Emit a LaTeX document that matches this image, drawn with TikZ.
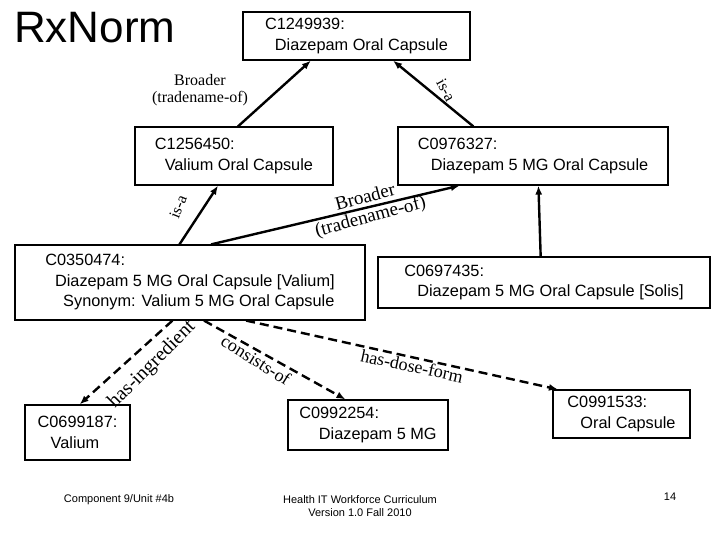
\documentclass[tikz,border=0pt]{standalone}
\usepackage{fontspec}
\setmainfont{Liberation Sans}
\newfontfamily\lab{Liberation Serif}
\usetikzlibrary{arrows.meta,calc}
\begin{document}
\begin{tikzpicture}[x=1pt,y=-1pt,
 box/.style={draw,line width=1.2pt,inner sep=0pt,font=\fontsize{16.3}{20.5}\selectfont,align=left},
 rel/.style={line width=2.4pt,-{Latex[length=9pt,width=7pt]}},
 drel/.style={rel,dash pattern=on 9pt off 5pt},
 lb/.style={font=\lab\fontsize{16}{17}\selectfont,inner sep=0pt}]
\useasboundingbox (0,0) rectangle (720,540);
\node[anchor=north west,font=\fontsize{44}{48}\selectfont,inner sep=0pt] (title) at (14,12) {RxNorm};
\def\bx#1#2#3#4#5#6{\node[box,minimum width=#4-#2,minimum height=#5-#3] (#1) at ({(#2+#4)/2},{(#3+#5)/2}) {#6};}
\bx{top}{243}{12}{470}{60}{C1249939:\\\hspace*{0.6em}Diazepam Oral Capsule}
\bx{val}{135}{127}{333}{185}{C1256450:\\\hspace*{0.6em}Valium Oral Capsule}
\bx{dz}{398}{127}{668}{185}{C0976327:\\\hspace*{0.8em}Diazepam 5 MG Oral Capsule}
\bx{vc}{15}{245}{365}{320}{C0350474:\\\hspace*{0.6em}Diazepam 5 MG Oral Capsule [Valium]\\\hspace*{1.1em}Synonym: Valium 5 MG Oral Capsule}
\bx{so}{378}{257}{710}{308}{C0697435:\\\hspace*{0.8em}Diazepam 5 MG Oral Capsule [Solis]}
\bx{in}{25}{405}{130}{460}{C0699187:\\\hspace*{0.8em}Valium}
\bx{dm}{288}{400}{448}{450}{C0992254:\\\hspace*{1.2em}Diazepam 5 MG}
\bx{oc}{553}{390}{690}{438}{C0991533:\\\hspace*{0.8em}Oral Capsule}
\draw[rel] ($(val.north west)!0.52!(val.north east)$) -- ($(top.south west)!0.3!(top.south east)$);
\draw[rel] ($(dz.north west)!0.28!(dz.north east)$) -- ($(top.south west)!0.66!(top.south east)$);
\draw[rel] ($(vc.north west)!0.47!(vc.north east)$) -- ($(val.south west)!0.42!(val.south east)$);
\draw[rel] ($(vc.north west)!0.56!(vc.north east)$) -- ($(dz.south west)!0.23!(dz.south east)$);
\draw[rel] ($(so.north west)!0.49!(so.north east)$) -- ($(dz.south west)!0.52!(dz.south east)$);
\draw[drel] ($(vc.south west)!0.45!(vc.south east)$) -- ($(in.north west)!0.52!(in.north east)$);
\draw[drel] ($(vc.south west)!0.54!(vc.south east)$) -- ($(dm.north west)!0.36!(dm.north east)$);
\draw[drel] ($(vc.south west)!0.66!(vc.south east)$) -- ($(oc.north west)!0.04!(oc.north east)$);
\node[lb,align=center] (l1) at (200,90) {Broader\\(tradename-of)};
\node[lb,rotate=-62] (l2) at (446,90) {is-a};
\node[lb,rotate=68] (l3) at (178,207) {is-a};
\node[lb,rotate=15,align=center,font=\lab\fontsize{19}{20}\selectfont] (l4) at (368,208) {Broader\\(tradename-of)};
\node[lb,rotate=45,font=\lab\fontsize{20}{20}\selectfont] (l5) at (152,365) {has-ingredient};
\node[lb,rotate=-32,font=\lab\fontsize{18}{20}\selectfont] (l6) at (256,360) {consists-of};
\node[lb,rotate=-12,font=\lab\fontsize{18}{20}\selectfont] (l7) at (412,366) {has-dose-form};
\node[font=\fontsize{11}{13}\selectfont] (f1) at (119,500) {Component 9/Unit \#4b};
\node[font=\fontsize{11}{13}\selectfont,align=center] (f2) at (360,506) {Health IT Workforce Curriculum\\Version 1.0 Fall 2010};
\node[font=\fontsize{11}{13}\selectfont] (f3) at (670,497) {14};
\end{tikzpicture}
\end{document}
